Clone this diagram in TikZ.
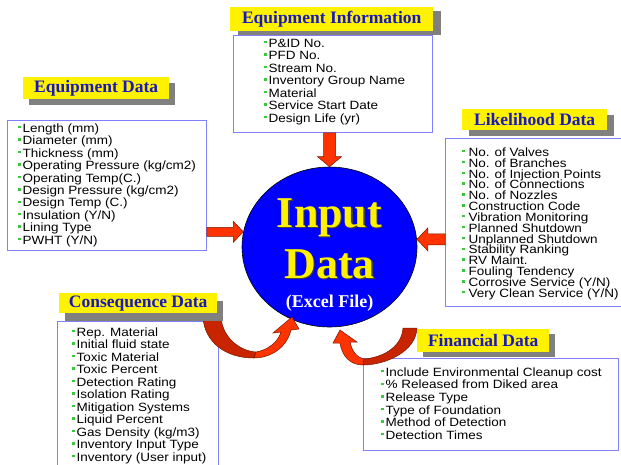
\documentclass[tikz,border=0pt]{standalone}
\usepackage{fontspec}
\setmainfont{Liberation Serif}
\newfontfamily\itemfont[FakeStretch=1.125]{Liberation Sans}
\newfontfamily\ttlfont{Liberation Serif}
\usetikzlibrary{shapes.geometric,shadows,calc}
\definecolor{ttlblue}{RGB}{24,24,190}
\definecolor{boxblue}{RGB}{128,128,255}
\definecolor{bulgreen}{RGB}{60,200,60}
\definecolor{arrred}{RGB}{255,51,0}
\definecolor{arrdark}{RGB}{200,36,0}
\definecolor{arredge}{RGB}{120,20,0}
\definecolor{shadowgray}{RGB}{128,128,128}
\newcommand\bulsq{\textcolor{bulgreen}{\rule[4pt]{2.4pt}{2.4pt}}}
\begin{document}
\begin{tikzpicture}[x=1pt,y=-1pt,
  ttl/.style 2 args={fill=yellow, text=ttlblue, font=\ttlfont\bfseries\fontsize{17.5}{20}\selectfont,
     inner sep=0, anchor=north west,
     drop shadow={shadow xshift=#1pt, shadow yshift=-#2pt, fill=shadowgray, opacity=1}},
  listbox/.style={draw=boxblue, line width=0.9pt, fill=white, inner sep=0, anchor=north west},
  itm/.style={font=\itemfont\fontsize{12}{12}\selectfont, inner sep=0, anchor=base west},
  redarr/.style={fill=arrred, draw=arredge, line width=0.5pt, line join=miter},
  tailarr/.style={fill=arrdark, draw=arredge, line width=0.5pt, line join=round},
  bigtxt/.style={font=\bfseries\fontsize{44}{48}\selectfont, inner sep=0, anchor=base},
]
\useasboundingbox (0,0) rectangle (621,464);

% list boxes
\node[listbox, minimum width=199pt, minimum height=130pt] (b1) at (7,120) {};
\node[listbox, minimum width=199pt, minimum height=97pt] (b2) at (233,35) {};
\node[listbox, minimum width=178pt, minimum height=168pt] (b3) at (445,138) {};
\node[listbox, minimum width=161pt, minimum height=150pt] (b4) at (57,321) {};
\node[listbox, minimum width=255pt, minimum height=92pt] (b5) at (363,358) {};

% central ellipse
\node[ellipse, draw=black, line width=0.6pt, fill=blue, minimum width=175pt,
      minimum height=160pt, inner sep=0] (inp) at (329.5,247) {};

% straight arrows
\draw[redarr] ($(inp.north)+(-6,-10)$) -- ($(inp.north|-b2.south)+(-6,0)$)
  -- ($(inp.north|-b2.south)+(6,0)$) -- ($(inp.north)+(6,-10)$)
  -- ($(inp.north)+(12,-10)$) -- (inp.north) -- ($(inp.north)+(-12,-10)$) -- cycle;
\coordinate (lt) at (inp.170);
\draw[redarr] ($(lt)+(-10,-4.5)$) -- ($(b1.east|-lt)+(0,-4.5)$)
  -- ($(b1.east|-lt)+(0,4.5)$) -- ($(lt)+(-10,4.5)$)
  -- ($(lt)+(-10,10.5)$) -- (lt) -- ($(lt)+(-10,-10.5)$) -- cycle;
\coordinate (rt) at (inp.5);
\draw[redarr] ($(rt)+(11,-5.5)$) -- ($(b3.west|-rt)+(0,-5.5)$)
  -- ($(b3.west|-rt)+(0,5.5)$) -- ($(rt)+(11,5.5)$)
  -- ($(rt)+(11,11.5)$) -- (rt) -- ($(rt)+(11,-11.5)$) -- cycle;

% curved arrow: consequence -> input
\draw[tailarr] (203,318) -- (221,318) .. controls (223,338) and (240,351) .. (256,352)
  -- (254,358) .. controls (225,358) and (205,342) .. (203,318) -- cycle;
\draw[redarr] (256,352) .. controls (268,350) and (278,342) .. (281,332)
  -- (273,333) -- (292,317) -- (299,329) -- (291,330)
  .. controls (286,350) and (268,358) .. (254,358) -- cycle;

% curved arrow: financial -> input
\draw[tailarr] (417,328) .. controls (416,352) and (385,365) .. (363,365)
  -- (364,359) .. controls (386,357) and (402,345) .. (403,328) -- cycle;
\draw[redarr] (363,365) .. controls (350,365) and (342,356) .. (340,343)
  -- (333,343) -- (340,330) -- (357,342) -- (350,342)
  .. controls (352,352) and (358,358) .. (364,359) -- cycle;

% titles
\node[ttl={6}{6}, minimum width=146pt, minimum height=22pt] (t1) at (23,77) {Equipment Data};
\node[ttl={8}{4}, minimum width=203pt, minimum height=24pt] (t2) at (230,7) {Equipment Information};
\node[ttl={7}{6}, minimum width=145pt, minimum height=21pt] (t3) at (462,109) {Likelihood Data};
\node[ttl={6}{8}, minimum width=158pt, minimum height=20pt] (t4) at (59,293) {Consequence Data};
\node[ttl={6}{5}, minimum width=132pt, minimum height=23pt] (t5) at (417,329) {Financial Data};

% items
\foreach \t [count=\i] in {{Length (mm)},{Diameter (mm)},{Thickness (mm)},
  {Operating Pressure (kg/cm2)},{Operating Temp(C.)},{Design Pressure (kg/cm2)},
  {Design Temp (C.)},{Insulation (Y/N)},{Lining Type},{PWHT (Y/N)}}
  \node[itm] (ed\i) at (18,{132.3+(\i-1)*12.44}) {\bulsq\hspace{2pt}\t};
\foreach \t [count=\i] in {{P\&ID No.},{PFD No.},{Stream No.},{Inventory Group Name},
  {Material},{Service Start Date},{Design Life (yr)}}
  \node[itm] (ei\i) at (264,{47.3+(\i-1)*12.5}) {\bulsq\hspace{2pt}\t};
\foreach \t [count=\i] in {{No. of Valves},{No. of Branches},{No. of Injection Points},
  {No. of Connections},{No. of Nozzles},{Construction Code},{Vibration Monitoring},
  {Planned Shutdown},{Unplanned Shutdown},{Stability Ranking},{RV Maint.},
  {Fouling Tendency},{Corrosive Service (Y/N)},{Very Clean Service (Y/N)}}
  \node[itm] (ld\i) at (462,{156.3+(\i-1)*10.85}) {\bulsq\hspace{4pt}\t};
\foreach \t [count=\i] in {{Rep. Material},{Initial fluid state},{Toxic Material},
  {Toxic Percent},{Detection Rating},{Isolation Rating},{Mitigation Systems},
  {Liquid Percent},{Gas Density (kg/m3)},{Inventory Input Type},{Inventory (User input)}}
  \node[itm] (cd\i) at (72,{336.3+(\i-1)*12.5}) {\bulsq\hspace{2pt}\t};
\foreach \t [count=\i] in {{Include Environmental Cleanup cost},{\% Released from Diked area},
  {Release Type},{Type of Foundation},{Method of Detection},{Detection Times}}
  \node[itm] (fd\i) at (381,{376.3+(\i-1)*12.6}) {\bulsq\hspace{2pt}\t};

% central text
\node[bigtxt, text=black!75] (inpAs) at (331,228.5) {Input};
\node[bigtxt, text=yellow] (inpA) at (329.5,227) {Input};
\node[bigtxt, text=black!75] (inpBs) at (331,279.5) {Data};
\node[bigtxt, text=yellow] (inpB) at (329.5,278) {Data};
\node[font=\bfseries\fontsize{18}{20}\selectfont, text=white, inner sep=0, anchor=base]
  (inpC) at (329.5,307) {(Excel File)};
\end{tikzpicture}
\end{document}
